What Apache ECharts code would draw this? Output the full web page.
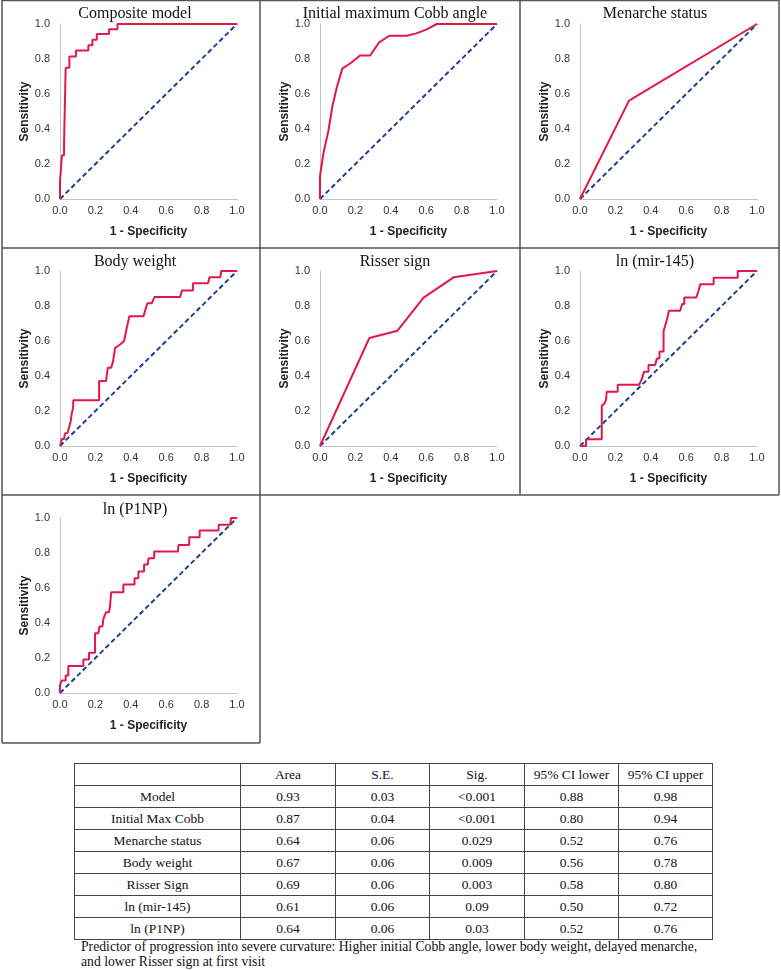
<!DOCTYPE html>
<html>
<head>
<meta charset="utf-8">
<script src="https://cdn.jsdelivr.net/npm/echarts@6/dist/echarts.min.js"></script>
<style>
html,body{margin:0;padding:0;background:#fff;}
#wrap{position:relative;width:781px;height:970px;}
#chart{position:absolute;left:0;top:0;width:781px;height:750px;}
#tbl{position:absolute;left:74px;top:763px;width:633px;table-layout:fixed;border-collapse:collapse;font-family:"Liberation Serif","Times New Roman",serif;font-size:13.5px;color:#111;}
#tbl td{border:1px solid #444;height:21px;padding:0;text-align:center;}
#cap{position:absolute;left:81px;top:939px;font-family:"Liberation Serif","Times New Roman",serif;font-size:13.7px;line-height:15px;color:#111;white-space:nowrap;}
</style>
</head>
<body>
<div id="wrap">
<div id="chart"></div>
<table id="tbl"></table>
<div id="cap"></div>
</div>
<script>
// ---- data ----
const panelTitles = ['Composite model','Initial maximum Cobb angle','Menarche status','Body weight','Risser sign','ln (mir-145)','ln (P1NP)'];
const rocComposite = [[0,0],[0,0.1],[0.011,0.1],[0.011,0.25],[0.023,0.25],[0.023,0.32],[0.032,0.32],[0.032,0.75],[0.053,0.75],[0.053,0.815],[0.09,0.815],[0.09,0.848],[0.16,0.848],[0.16,0.878],[0.183,0.878],[0.183,0.91],[0.208,0.91],[0.208,0.943],[0.277,0.943],[0.277,0.97],[0.325,0.97],[0.325,1],[1,1]];
const rocCobb = [[0,0],[0,0.13],[0.019,0.26],[0.047,0.387],[0.07,0.53],[0.094,0.634],[0.126,0.745],[0.174,0.777],[0.226,0.82],[0.283,0.82],[0.334,0.895],[0.392,0.933],[0.49,0.933],[0.54,0.945],[0.6,0.968],[0.66,1],[1,1]];
const rocMenarche = [[0,0],[0.277,0.562],[1,1]];
const rocWeight = [[0,0],[0.006,0.021],[0.011,0.04],[0.023,0.04],[0.028,0.072],[0.043,0.076],[0.051,0.106],[0.06,0.14],[0.066,0.182],[0.074,0.22],[0.075,0.261],[0.221,0.261],[0.221,0.371],[0.26,0.371],[0.27,0.447],[0.289,0.447],[0.3,0.485],[0.311,0.485],[0.311,0.56],[0.34,0.58],[0.362,0.6],[0.377,0.674],[0.392,0.742],[0.472,0.742],[0.483,0.782],[0.494,0.782],[0.494,0.816],[0.519,0.816],[0.534,0.852],[0.679,0.852],[0.689,0.888],[0.751,0.888],[0.751,0.93],[0.836,0.93],[0.845,0.964],[0.906,0.964],[0.911,1],[1,1]];
const rocRisser = [[0,0],[0.279,0.617],[0.438,0.659],[0.585,0.848],[0.755,0.964],[1,1]];
const rocMir145 = [[0,0],[0.034,0],[0.034,0.038],[0.123,0.038],[0.123,0.231],[0.136,0.24],[0.147,0.263],[0.151,0.31],[0.213,0.31],[0.213,0.35],[0.334,0.35],[0.349,0.382],[0.362,0.425],[0.387,0.425],[0.387,0.463],[0.425,0.463],[0.434,0.5],[0.449,0.5],[0.449,0.54],[0.472,0.54],[0.472,0.656],[0.483,0.694],[0.494,0.732],[0.502,0.773],[0.566,0.773],[0.577,0.811],[0.589,0.811],[0.589,0.849],[0.657,0.849],[0.67,0.887],[0.679,0.887],[0.679,0.924],[0.755,0.924],[0.755,0.962],[0.891,0.962],[0.891,1],[1,1]];
const rocP1NP = [[0,0],[0,0.044],[0.009,0.072],[0.032,0.072],[0.032,0.1],[0.047,0.1],[0.047,0.154],[0.132,0.154],[0.132,0.192],[0.164,0.192],[0.164,0.23],[0.198,0.23],[0.198,0.342],[0.217,0.342],[0.223,0.38],[0.24,0.38],[0.245,0.424],[0.255,0.424],[0.26,0.462],[0.277,0.462],[0.283,0.5],[0.289,0.576],[0.358,0.576],[0.358,0.62],[0.421,0.62],[0.421,0.656],[0.443,0.656],[0.443,0.694],[0.475,0.694],[0.475,0.734],[0.496,0.734],[0.5,0.77],[0.532,0.77],[0.532,0.808],[0.666,0.808],[0.67,0.846],[0.73,0.846],[0.73,0.89],[0.789,0.89],[0.789,0.928],[0.896,0.928],[0.896,0.962],[0.962,0.962],[0.966,1],[1,1]];
const refLine = [[0,0],[1,1]];
const xAxisName = '1 - Specificity';
const yAxisName = 'Sensitivity';

const tableHeader = ['', 'Area', 'S.E.', 'Sig.', '95% CI lower', '95% CI upper'];
const tablePredictors = ['Model','Initial Max Cobb','Menarche status','Body weight','Risser Sign','ln (mir-145)','ln (P1NP)'];
const tableArea = ['0.93','0.87','0.64','0.67','0.69','0.61','0.64'];
const tableSE = ['0.03','0.04','0.06','0.06','0.06','0.06','0.06'];
const tableSig = ['<0.001','<0.001','0.029','0.009','0.003','0.09','0.03'];
const tableCILower = ['0.88','0.80','0.52','0.56','0.58','0.50','0.52'];
const tableCIUpper = ['0.98','0.94','0.76','0.78','0.80','0.72','0.76'];
const captionLines = ['Predictor of progression into severe curvature: Higher initial Cobb angle, lower body weight, delayed menarche,','and lower Risser sign at first visit'];

// ---- layout ----
const rocs = [rocComposite, rocCobb, rocMenarche, rocWeight, rocRisser, rocMir145, rocP1NP];
const colX = [0, 260, 520];
const rowY = [0, 248, 495];
const plotTopOff = [24, 23, 23];
const plotH = 175, plotW = 177, plotLeftOff = 60;
const titleTopOff = [1, 1, 2];

const grids = [], xAxes = [], yAxes = [], series = [], titles = [];
rocs.forEach((d, i) => {
  const c = i % 3, r = Math.floor(i / 3);
  const left = colX[c] + plotLeftOff, top = rowY[r] + plotTopOff[r];
  grids.push({left: left, top: top, width: plotW, height: plotH});
  const axisCommon = {
    type: 'value', min: 0, max: 1, interval: 0.2, gridIndex: i,
    axisLine: {show: true, lineStyle: {color: '#c4c4c4', width: 1}},
    axisTick: {show: false},
    splitLine: {show: false},
    nameLocation: 'middle',
    nameTextStyle: {fontFamily: '"Liberation Sans", Arial, sans-serif', fontWeight: 'bold', fontSize: 12, color: '#222'},
    axisLabel: {fontFamily: '"Liberation Sans", Arial, sans-serif', fontSize: 11, color: '#333', formatter: v => v.toFixed(1), showMinLabel: true, showMaxLabel: true}
  };
  xAxes.push(Object.assign({}, axisCommon, {name: xAxisName, nameGap: 27, axisLabel: Object.assign({}, axisCommon.axisLabel, {margin: 6})}));
  yAxes.push(Object.assign({}, axisCommon, {name: yAxisName, nameGap: 25, axisLabel: Object.assign({}, axisCommon.axisLabel, {margin: 10})}));
  series.push({type: 'line', xAxisIndex: i, yAxisIndex: i, data: refLine, symbol: 'none', silent: true,
    lineStyle: {color: '#1c3f94', width: 2, type: [5, 3]}, z: 2});
  series.push({type: 'line', xAxisIndex: i, yAxisIndex: i, data: d, symbol: 'none', silent: true,
    lineStyle: {color: '#e3184a', width: 2}, z: 3});
  titles.push({text: panelTitles[i], left: colX[c] + 130, top: rowY[r] + titleTopOff[r], textAlign: 'center',
    textStyle: {fontFamily: '"Liberation Serif", "Times New Roman", serif', fontWeight: 'normal', fontSize: 16, color: '#111'}});
});

const borderColor = '#555';
const segs = [
  [2,0.5,779,0.5],[2,248,779,248],[2,495,779,495],[2,743,260,743],
  [2,0,2,743],[260,0,260,743],[520,0,520,495],[779,0,779,495]
];
const graphics = segs.map(s => ({type: 'line', shape: {x1: s[0], y1: s[1], x2: s[2], y2: s[3]},
  style: {stroke: borderColor, lineWidth: 1.5}, silent: true}));

const chart = echarts.init(document.getElementById('chart'), null, {renderer: 'canvas'});
chart.setOption({
  animation: false,
  backgroundColor: '#fff',
  title: titles,
  grid: grids,
  xAxis: xAxes,
  yAxis: yAxes,
  series: series,
  graphic: graphics
});

// ---- table ----
const colW = [165, 94, 93, 94, 93, 93];
const tbl = document.getElementById('tbl');
function addRow(cells) {
  const tr = document.createElement('tr');
  cells.forEach((t, j) => {
    const td = document.createElement('td');
    td.textContent = t;
    td.style.width = colW[j] + 'px';
    tr.appendChild(td);
  });
  tbl.appendChild(tr);
}
addRow(tableHeader);
tablePredictors.forEach((p, k) => addRow([p, tableArea[k], tableSE[k], tableSig[k], tableCILower[k], tableCIUpper[k]]));
document.getElementById('cap').innerHTML = captionLines.map(l => l.replace(/</g,'&lt;')).join('<br>');
</script>
</body>
</html>
